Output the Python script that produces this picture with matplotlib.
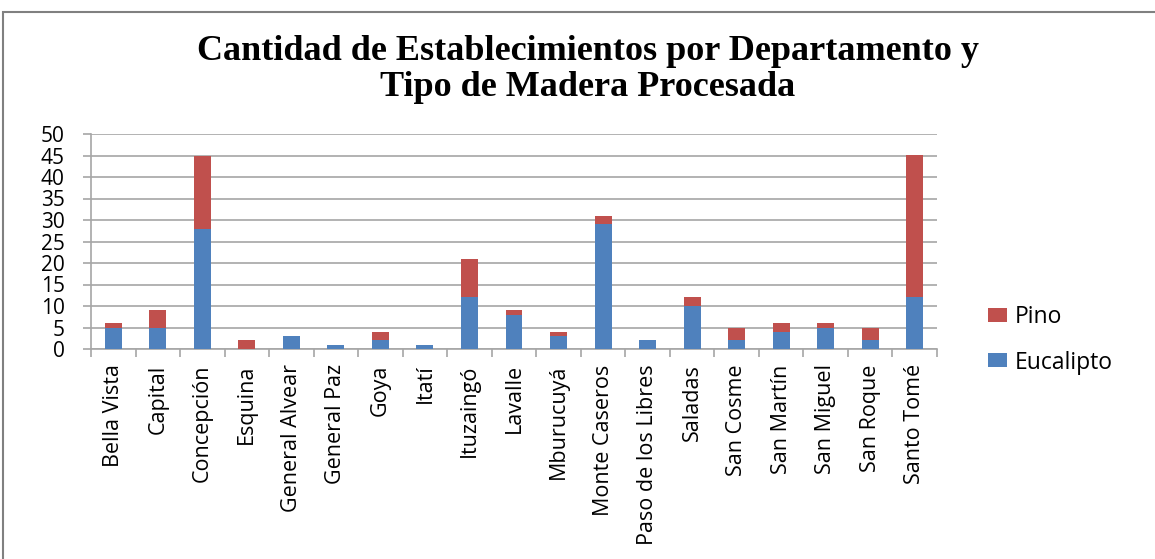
import matplotlib.pyplot as plt
import matplotlib.patches as mpatches
import numpy as np

# data
departamentos = ['Bella Vista', 'Capital', 'Concepción', 'Esquina', 'General Alvear',
                 'General Paz', 'Goya', 'Itatí', 'Ituzaingó', 'Lavalle', 'Mburucuyá',
                 'Monte Caseros', 'Paso de los Libres', 'Saladas', 'San Cosme',
                 'San Martín', 'San Miguel', 'San Roque', 'Santo Tomé']
eucalipto = [5, 5, 28, 0, 3, 1, 2, 1, 12, 8, 3, 29, 2, 10, 2, 4, 5, 2, 12]
pino = [1, 4, 17, 2, 0, 0, 2, 0, 9, 1, 1, 2, 0, 2, 3, 2, 1, 3, 33]

blue = '#4f81bd'
red = '#c0504d'
grid_col = '#a6a6a6'

fig = plt.figure(figsize=(11.55, 5.59), dpi=100)
ax = fig.add_axes([91 / 1155, 1 - 349 / 559, (937 - 91) / 1155, (349 - 134) / 559])

x = np.arange(len(departamentos))
ax.bar(x, eucalipto, width=0.38, color=blue, label='Eucalipto', zorder=3)
ax.bar(x, pino, width=0.38, bottom=eucalipto, color=red, label='Pino', zorder=3)

ax.set_xlim(-0.5, len(departamentos) - 0.5)
ax.set_ylim(0, 50)
ax.set_yticks(range(0, 51, 5))
ax.yaxis.grid(True, color=grid_col, linewidth=1.2, zorder=0)

ax.set_xticks(x)
ax.set_xticklabels(departamentos, rotation=90, fontsize=15.5, family='Open Sans', va='top')
ax.set_xticks(np.arange(-0.5, len(departamentos), 1), minor=True)
ax.tick_params(axis='x', which='major', length=0, pad=11)
ax.tick_params(axis='x', which='minor', length=6, color=grid_col, width=1.2)
ax.tick_params(axis='y', length=6, color=grid_col, width=1.2, labelsize=15, pad=13)
for lab in ax.get_yticklabels():
    lab.set_family('Open Sans')

for side in ['top', 'right']:
    ax.spines[side].set_visible(False)
for side in ['left', 'bottom']:
    ax.spines[side].set_color(grid_col)
    ax.spines[side].set_linewidth(1.2)

handles, labels = ax.get_legend_handles_labels()
leg = fig.legend(handles[::-1], labels[::-1], loc='center left',
                 bbox_to_anchor=(988 / 1155, 1 - 340 / 559), frameon=False,
                 prop={'family': 'Open Sans', 'size': 16.5}, labelspacing=0.92,
                 handlelength=0.83, handleheight=0.57, handletextpad=0.35,
                 borderpad=0, borderaxespad=0)

fig.text(588 / 1155, 1 - 69 / 559, 'Cantidad de Establecimientos por Departamento y\nTipo de Madera Procesada',
         ha='center', va='center', family='Liberation Serif', fontweight='bold',
         fontsize=26, linespacing=1.12)

# outer chart frame
fig.patches.append(mpatches.Rectangle((3 / 1155, -0.1), 1.2, 1 - 12 / 559 + 0.1,
                                      transform=fig.transFigure, fill=False,
                                      edgecolor='#808080', linewidth=1.5))

fig.savefig('out.png', dpi=100)
